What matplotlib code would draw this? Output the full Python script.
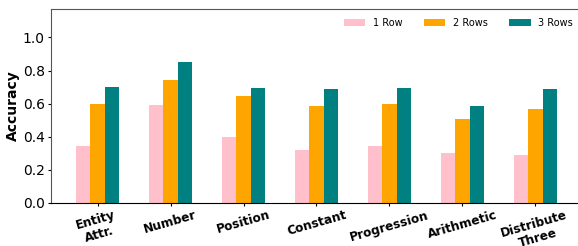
import matplotlib
matplotlib.use("Agg")
import matplotlib.pyplot as plt
import numpy as np

categories = ["Entity\nAttr.", "Number", "Position", "Constant", "Progression", "Arithmetic", "Distribute\nThree"]
series_names = ["1 Row", "2 Rows", "3 Rows"]
row1 = [0.344, 0.592, 0.400, 0.320, 0.344, 0.302, 0.290]
row2 = [0.598, 0.743, 0.647, 0.586, 0.598, 0.508, 0.568]
row3 = [0.700, 0.852, 0.695, 0.689, 0.695, 0.586, 0.689]
colors = ["pink", "orange", "teal"]

fig = plt.figure(figsize=(5.78, 2.46), dpi=100)
ax = fig.add_axes([51/578, 1-203/246, (582-51)/578, (203-9)/246])

x = np.arange(len(categories))
w = 0.2
for i, (vals, name, c) in enumerate(zip([row1, row2, row3], series_names, colors)):
    ax.bar(x + (i-1)*w, vals, width=w, color=c, label=name)

ax.set_xlim(-0.637, len(categories)-1+0.637)
ax.set_ylim(0, 1.172)
ax.set_yticks([0.0, 0.2, 0.4, 0.6, 0.8, 1.0])
ax.set_xticks(x)
ax.set_xticklabels(categories, rotation=16, fontweight="bold", fontsize=8.7, linespacing=1.15)
ax.tick_params(axis="y", labelsize=10, length=2.5, pad=2)
ax.tick_params(axis="x", length=2.5, pad=1.5)
ax.set_ylabel("Accuracy", fontweight="bold", fontsize=10, labelpad=2)

for s in ["left", "top", "right"]:
    ax.spines[s].set_color("#555555")
ax.spines["bottom"].set_color("black")

ax.legend(ncol=3, frameon=False, fontsize=7, loc="upper right",
          bbox_to_anchor=(1.0, 1.0), handlelength=2.2, handleheight=0.8,
          columnspacing=2.2, handletextpad=0.8, borderaxespad=0.4, borderpad=0.5)

fig.savefig("out.png", dpi=100)
